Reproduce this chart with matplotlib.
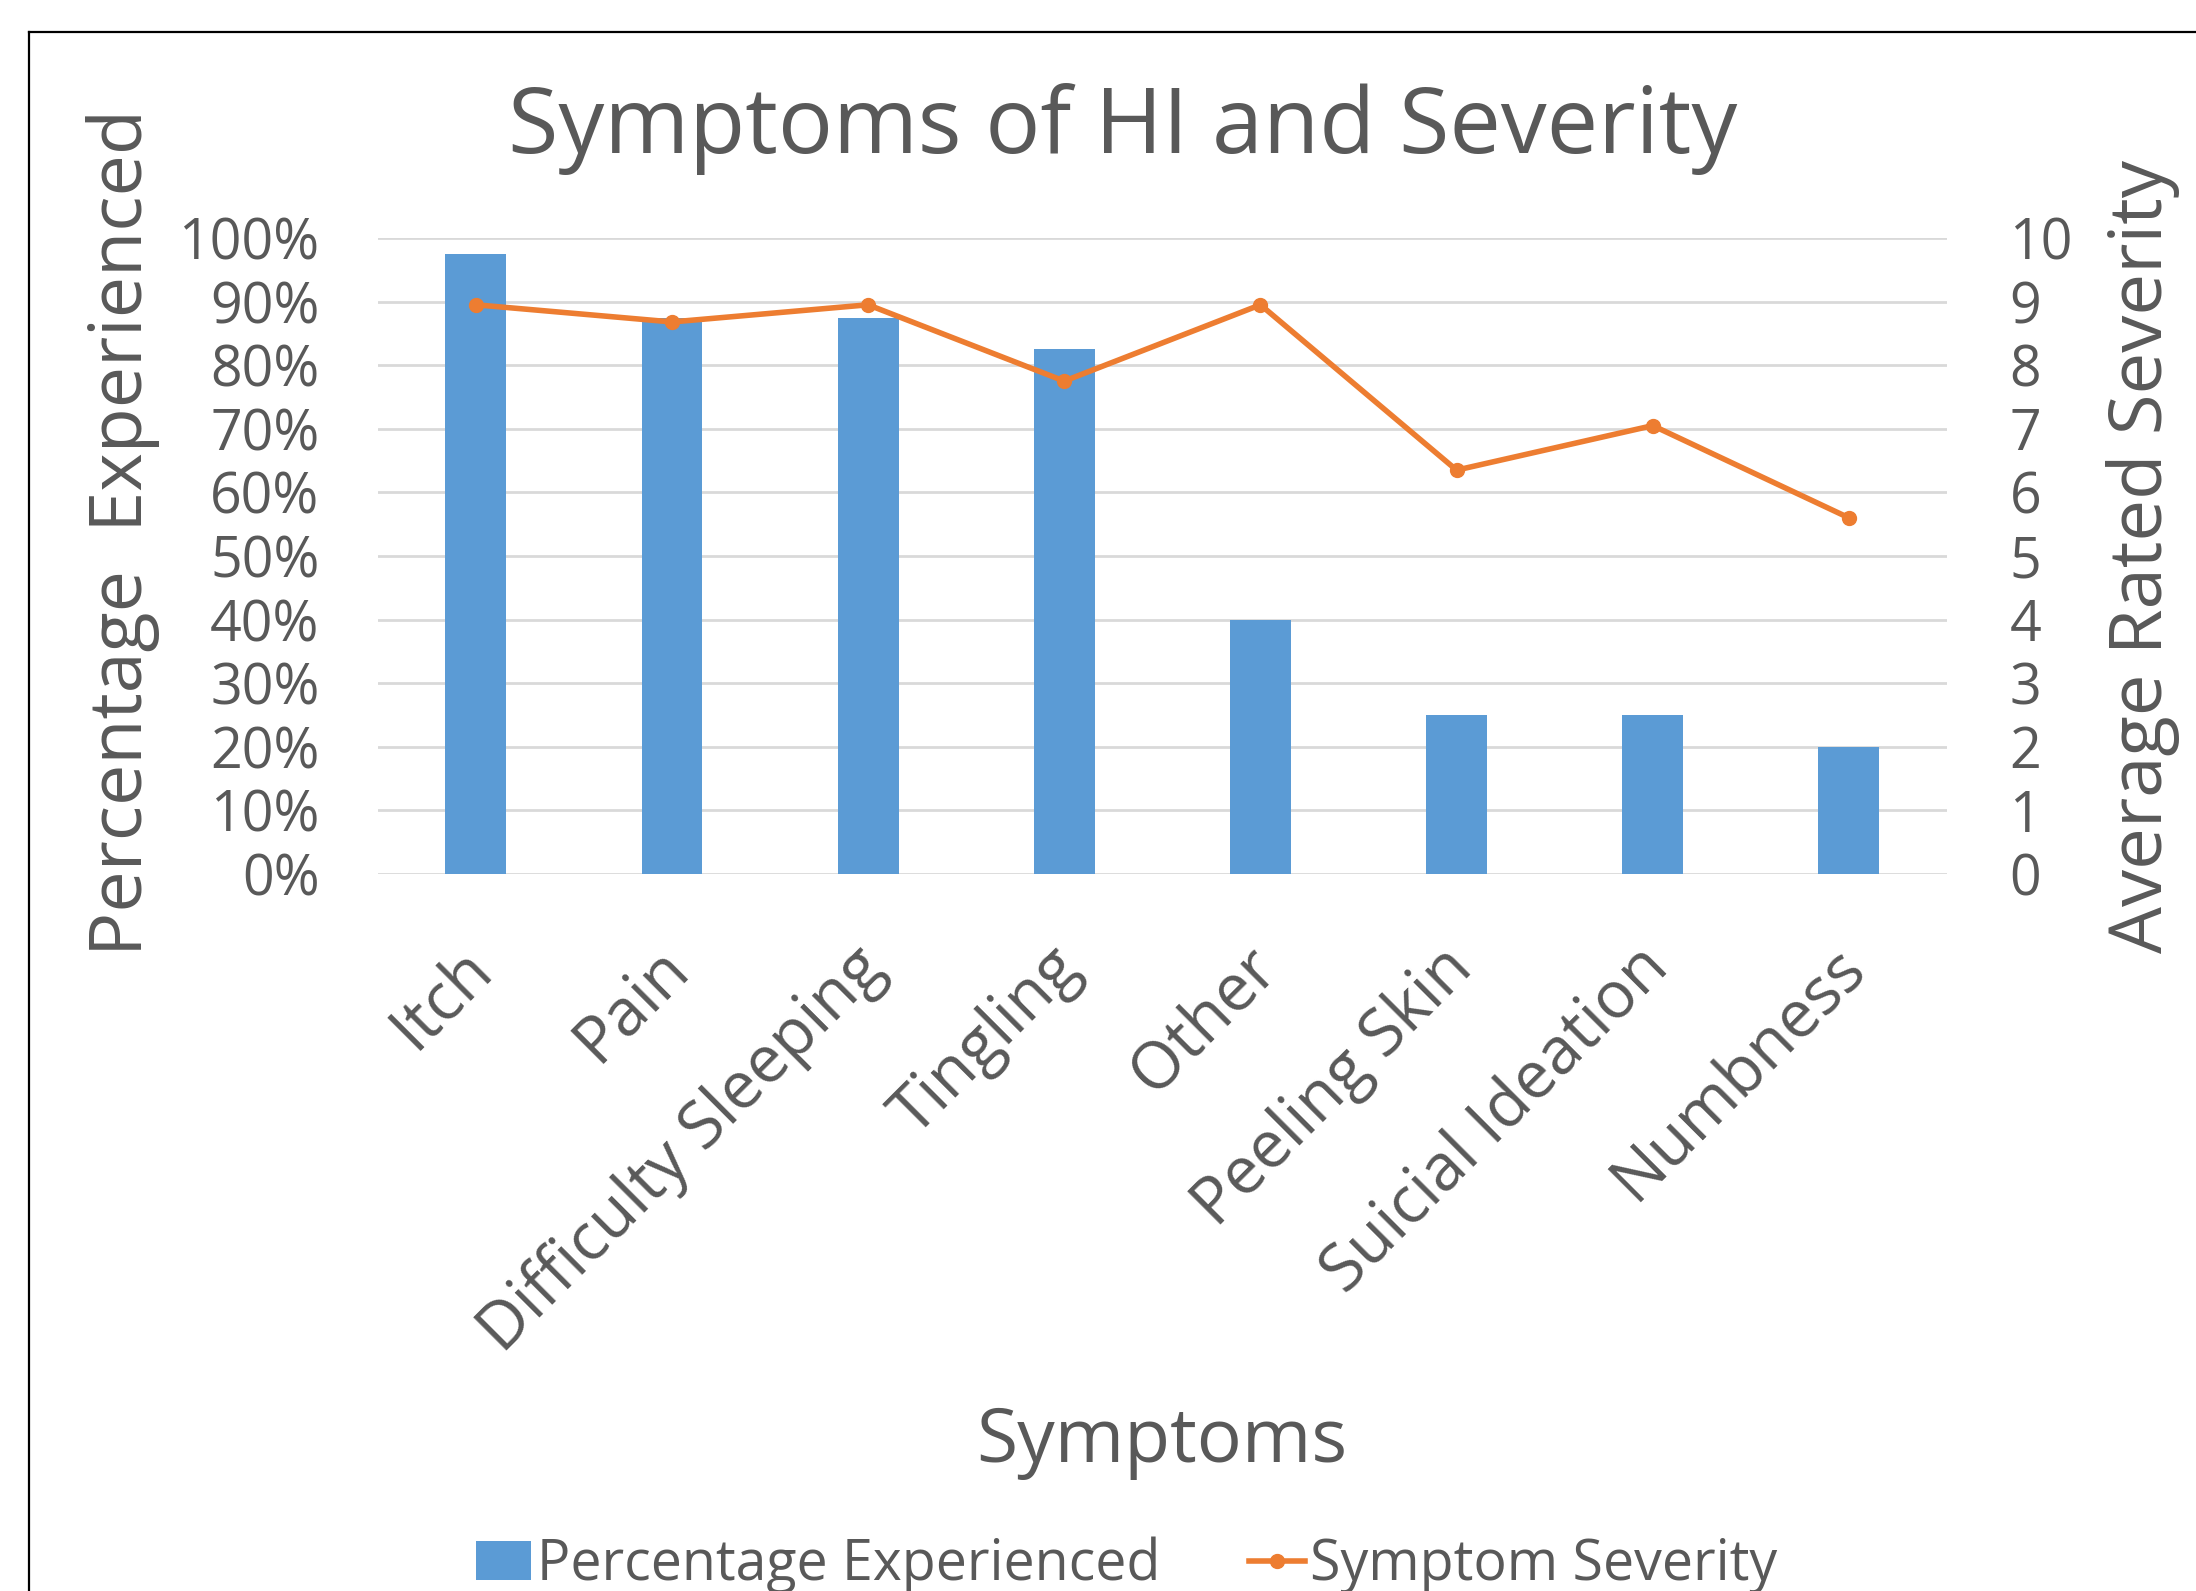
import matplotlib
matplotlib.use('Agg')
from matplotlib import pyplot as plt
from matplotlib.lines import Line2D
from matplotlib.ticker import PercentFormatter
from matplotlib.transforms import ScaledTranslation

# Data.
symptoms = ['Itch', 'Pain', 'Difficulty Sleeping', 'Tingling', 'Other',
            'Peeling Skin', 'Suicial Ideation', 'Numbness']
pct_experienced = [97.5, 87.5, 87.5, 82.5, 40, 25, 25, 20]
severity = [8.95, 8.68, 8.95, 7.75, 8.95, 6.35, 7.05, 5.6]

BLUE = '#5B9BD5'
ORANGE = '#ED7D31'
TEXT = '#595959'
GRID = '#D9D9D9'


def main():
    plt.rcParams['font.family'] = ['Open Sans', 'DejaVu Sans']
    fig = plt.figure(figsize=(21.96, 15.91), dpi=100)
    ax = fig.add_axes([0.172, 0.4507, 0.7146, 0.3997])
    ax2 = ax.twinx()

    x = list(range(len(symptoms)))
    bars = ax.bar(x, pct_experienced, width=0.31, color=BLUE, zorder=2,
                  label='Percentage Experienced')
    line, = ax2.plot(x, severity, color=ORANGE, lw=4, marker='o',
                     markersize=10, zorder=3, label='Symptom Severity')

    # Axes format.
    ax.set_xlim(-0.5, len(symptoms) - 0.5)
    ax.set_ylim(0, 100)
    ax.set_yticks(range(0, 101, 10))
    ax.yaxis.set_major_formatter(PercentFormatter(decimals=0))
    ax2.set_ylim(0, 10)
    ax2.set_yticks(range(0, 11))
    ax.grid(axis='y', color=GRID, lw=2, zorder=0)
    ax.set_axisbelow(True)
    for a in (ax, ax2):
        for s in a.spines.values():
            s.set_visible(False)
    ax.tick_params(axis='y', length=0, pad=42, labelsize=40, labelcolor=TEXT)
    ax2.tick_params(axis='y', length=0, pad=45, labelsize=40, labelcolor=TEXT)
    ax.set_xticks(x)
    ax.set_xticklabels(symptoms, rotation=45, ha='right', va='top',
                       rotation_mode='anchor', fontsize=47, color=TEXT)
    ax.tick_params(axis='x', length=0, pad=44)
    # nudge the slanted labels a little to the left
    shift = ScaledTranslation(-0.17, 0, fig.dpi_scale_trans)
    for lbl in ax.get_xticklabels():
        lbl.set_transform(lbl.get_transform() + shift)

    # Titles and labels.
    fig.text(0.5114, 0.919, 'Symptoms of HI and Severity', fontsize=66,
             color=TEXT, ha='center', va='center')
    fig.text(0.056, 0.6656, 'Percentage  Experienced', fontsize=53,
             color=TEXT, rotation=90, ha='center', va='center')
    fig.text(0.976, 0.650, 'Average Rated Severity', fontsize=53.5,
             color=TEXT, rotation=90, ha='center', va='center')
    fig.text(0.529, 0.0936, 'Symptoms', fontsize=54, color=TEXT,
             ha='center', va='center')

    fig.legend([bars, line], ['Percentage Experienced', 'Symptom Severity'],
               loc='center', bbox_to_anchor=(0.513, 0.016), ncol=2,
               frameon=False, fontsize=40, labelcolor=TEXT,
               handlelength=1.0, handletextpad=0.1, columnspacing=1.6)

    # Outer chart border (cut off at right and bottom).
    fig.add_artist(Line2D([0.0132, 0.0132], [0, 0.980], color='black', lw=1.6))
    fig.add_artist(Line2D([0.0132, 1.0], [0.980, 0.980], color='black', lw=1.6))

    fig.savefig('out.png', dpi=100)


if __name__ == '__main__':
    main()
